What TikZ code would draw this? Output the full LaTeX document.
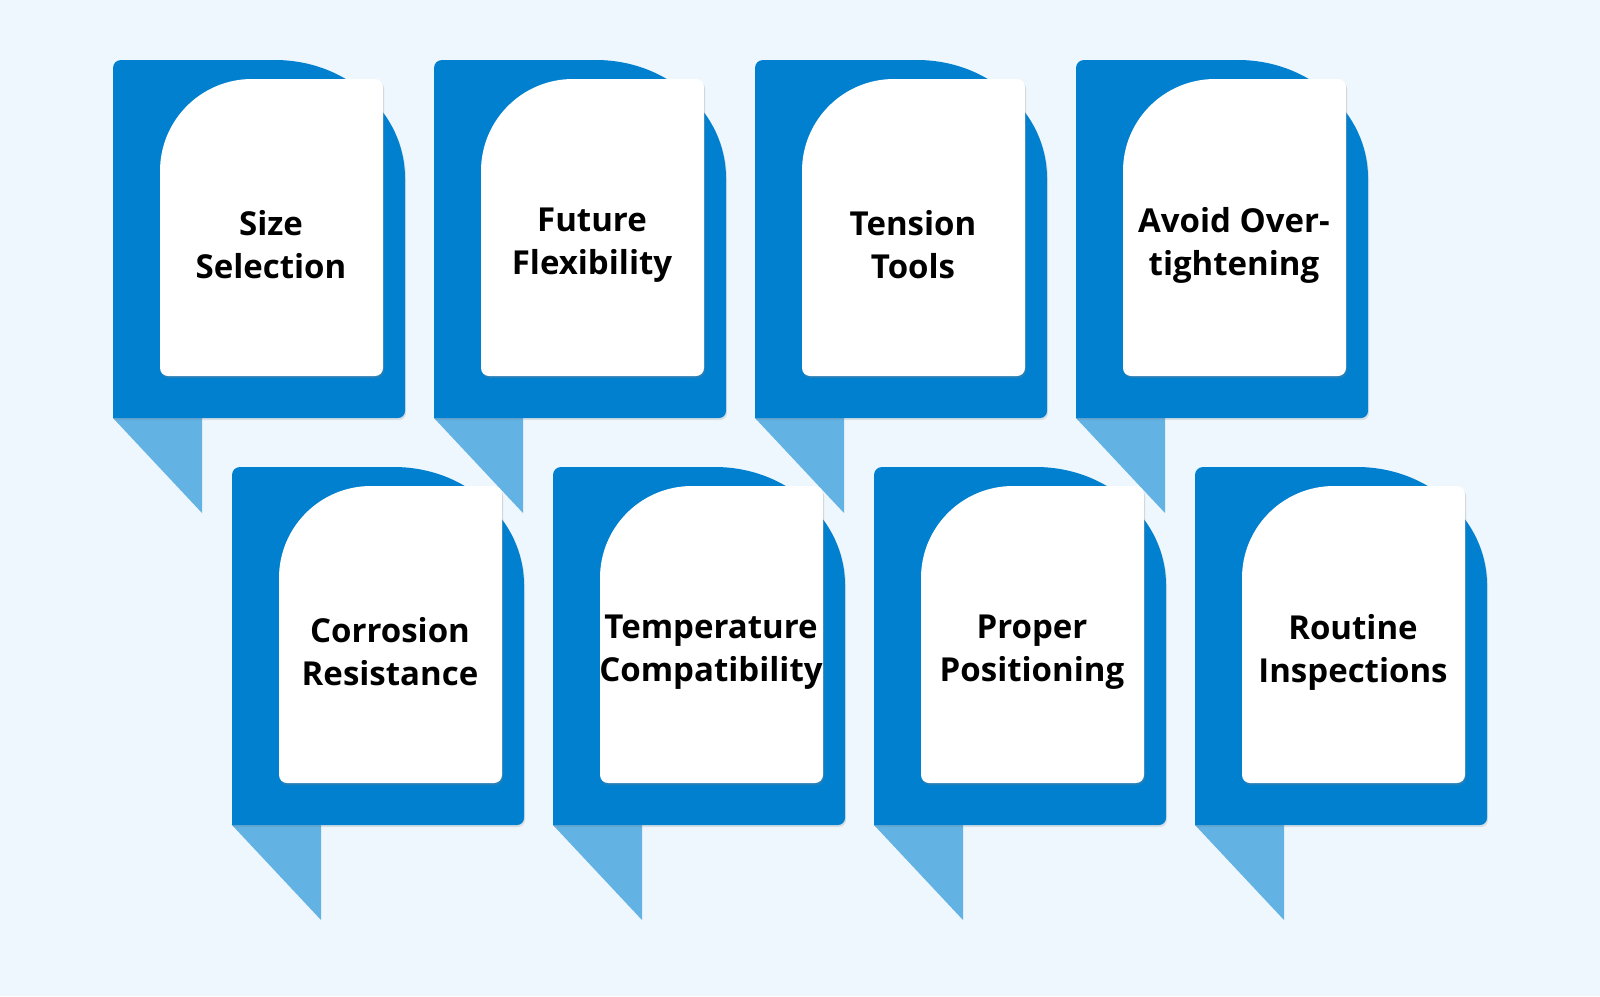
\documentclass[tikz,border=0pt]{standalone}
\usepackage{fontspec}
\setmainfont{Open Sans}
\usetikzlibrary{shadows}
\definecolor{bgc}{HTML}{EEF7FE}
\definecolor{bluec}{HTML}{0080CF}
\definecolor{lightc}{HTML}{62B2E4}
\tikzset{
  bluebox/.style={fill=bluec, drop shadow={opacity=0.2, shadow xshift=1pt, shadow yshift=-2pt}},
  tailbox/.style={fill=lightc},
  whitebox/.style={fill=white, drop shadow={opacity=0.3, shadow xshift=1pt, shadow yshift=-2pt}},
  label/.style={align=center, font=\fontsize{33}{43}\selectfont\bfseries, text=black, inner sep=0pt}
}
\newcommand\mycard[4]{%
  \begin{scope}[shift={(#1,-#2)}]
    \fill[tailbox] (0,-358) -- (89,-358) -- (89,-453) -- cycle;
    \path[bluebox] (0,-358) -- (0,-8) arc(180:90:8) -- (162,0)
      arc[start angle=90,end angle=0,x radius=130,y radius=118] -- (292,-351) arc(0:-90:7) -- cycle;
    \path[whitebox] (47,-111) arc(180:90:92) -- (262,-19) arc(90:0:8) -- (270,-308)
      arc(0:-90:8) -- (55,-316) arc(270:180:8) -- cycle;
    \node[label] (#3) at (158,-185) {#4};
  \end{scope}}
\begin{document}
\begin{tikzpicture}[x=1pt,y=1pt]
\fill[bgc] (0,0) rectangle (1600,-996);
\useasboundingbox (0,0) rectangle (1600,-996);
\mycard{113}{60}{c1}{Size\\Selection}
\mycard{434}{60}{c2}{Future\\Flexibility}
\mycard{755}{60}{c3}{Tension\\Tools}
\mycard{1076}{60}{c4}{Avoid Over-\\tightening}
\mycard{232}{467}{c5}{Corrosion\\Resistance}
\mycard{553}{467}{c6}{Temperature\\Compatibility}
\mycard{874}{467}{c7}{Proper\\Positioning}
\mycard{1195}{467}{c8}{Routine\\Inspections}
\end{tikzpicture}
\end{document}
